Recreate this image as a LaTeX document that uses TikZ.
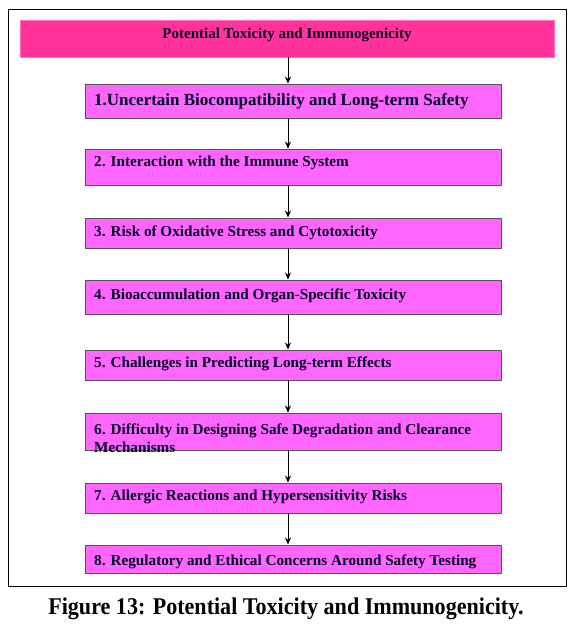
\documentclass[tikz,border=0pt]{standalone}
\usepackage{fontspec}
\setmainfont{Liberation Serif}
\usetikzlibrary{arrows.meta}
\definecolor{titlepink}{HTML}{FF3399}
\definecolor{boxmag}{HTML}{FF66FF}
\definecolor{boxedge}{HTML}{555555}
\tikzset{
  titlebar/.style={draw=titlepink!70!white, fill=titlepink, line width=0.8pt, minimum width=534pt, minimum height=37pt, inner sep=0pt},
  titletext/.style={inner sep=0pt, font=\bfseries\fontsize{15}{16}\selectfont, text=black!85!blue},
  stepbox/.style={draw=boxedge, fill=boxmag, line width=0.9pt, minimum width=416pt, inner sep=0pt},
  steptext/.style={anchor=west, inner sep=0pt, align=left, text=black!85!blue, font=\bfseries\fontsize{15.2}{17.5}\selectfont},
  arr/.style={-{Stealth[length=7pt,width=6pt]}, line width=0.8pt},
}
\begin{document}
\begin{tikzpicture}[x=1pt,y=-1pt]
\useasboundingbox (0,0) rectangle (573,633);
\node[draw, line width=0.9pt, minimum width=558pt, minimum height=577pt, inner sep=0pt] (frame) at (287,297.5) {};
\node[titlebar] (t) at (287,38.5) {};
\node[titletext] (tt) at (287,34.5) {Potential Toxicity and Immunogenicity};
\coordinate (ax) at (288,0);
\node[stepbox, minimum height=34pt] (b1) at (293,101) {};
\node[stepbox, minimum height=36pt] (b2) at (293,167) {};
\node[stepbox, minimum height=30pt] (b3) at (293,233) {};
\node[stepbox, minimum height=34pt] (b4) at (293,297) {};
\node[stepbox, minimum height=30pt] (b5) at (293,365) {};
\node[stepbox, minimum height=37pt] (b6) at (293,431.5) {};
\node[stepbox, minimum height=30pt] (b7) at (293,498) {};
\node[stepbox, minimum height=28pt] (b8) at (293,559) {};
\node[steptext, font=\bfseries\fontsize{17}{18}\selectfont] (l1) at (94,101) {1.Uncertain Biocompatibility and Long-term Safety};
\node[steptext] (l2) at (94,163) {2. Interaction with the Immune System};
\node[steptext] (l3) at (94,233) {3. Risk of Oxidative Stress and Cytotoxicity};
\node[steptext] (l4) at (94,296) {4. Bioaccumulation and Organ-Specific Toxicity};
\node[steptext] (l5) at (94,364) {5. Challenges in Predicting Long-term Effects};
\node[steptext] (l6) at (94,438) {6. Difficulty in Designing Safe Degradation and Clearance\\Mechanisms};
\node[steptext] (l7) at (94,497) {7. Allergic Reactions and Hypersensitivity Risks};
\node[steptext] (l8) at (94,562) {8. Regulatory and Ethical Concerns Around Safety Testing};
\draw[arr] (t.south -| ax) -- (b1.north -| ax);
\draw[arr] (b1.south -| ax) -- (b2.north -| ax);
\draw[arr] (b2.south -| ax) -- (b3.north -| ax);
\draw[arr] (b3.south -| ax) -- (b4.north -| ax);
\draw[arr] (b4.south -| ax) -- (b5.north -| ax);
\draw[arr] (b5.south -| ax) -- (b6.north -| ax);
\draw[arr] (b6.south -| ax) -- (b7.north -| ax);
\draw[arr] (b7.south -| ax) -- (b8.north -| ax);
\node[xscale=0.92, font=\bfseries\fontsize{24}{26}\selectfont] (cap) at (286,609) {Figure 13: Potential Toxicity and Immunogenicity.};
\end{tikzpicture}
\end{document}
